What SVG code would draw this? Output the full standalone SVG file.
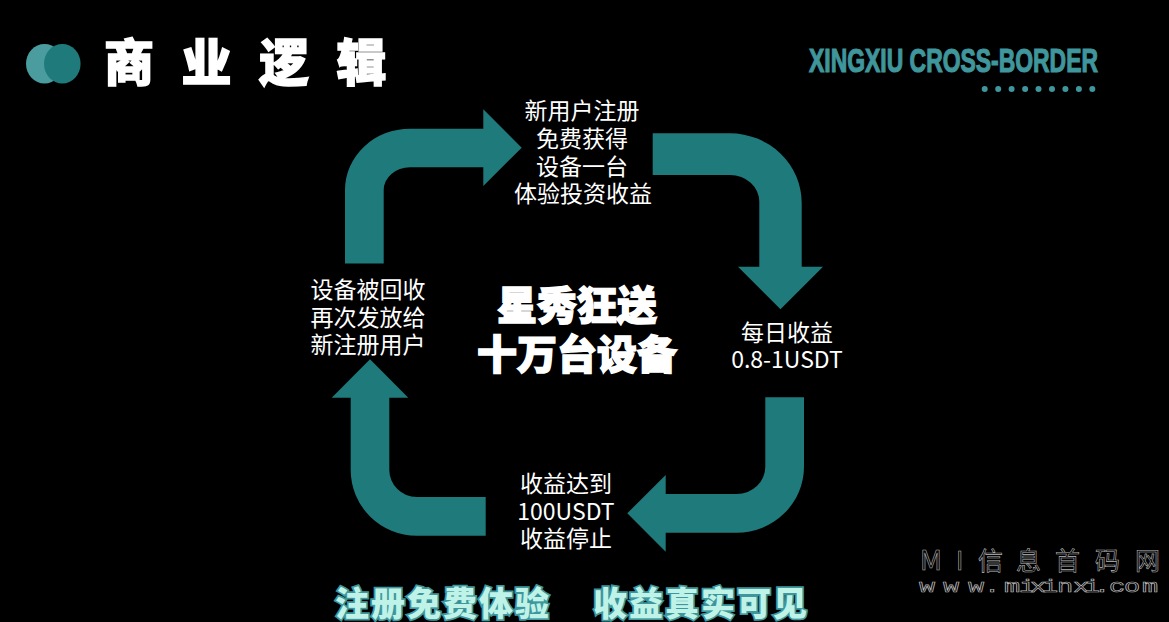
<svg xmlns="http://www.w3.org/2000/svg" width="1169" height="622" viewBox="0 0 1169 622">
<style>
.a{fill:#1f7a7c}
.b{font-family:"Noto Sans CJK SC","Noto Sans",sans-serif;font-size:23px;fill:#fff;text-anchor:middle}
.h{font-family:"Noto Sans CJK SC",sans-serif;font-weight:900;fill:#fff;stroke:#fff}
.g{font-family:"Noto Sans CJK SC",sans-serif;font-weight:900;font-size:34px;fill:#bff3e8;stroke:#3f969c;stroke-width:3.5px;paint-order:stroke;letter-spacing:2px}
.w{fill:#000;stroke:#bbb;stroke-width:.6px}
</style>
<rect width="1169" height="622" fill="#000"/>
<g id="logo">
<ellipse cx="44.5" cy="63.7" rx="18.5" ry="19.7" fill="#4a9c9e"/>
<ellipse cx="62.3" cy="63.7" rx="18.3" ry="19.7" fill="#1f7a7c"/>
</g>
<g id="title"><text class="h" x="104" y="81" font-size="50" stroke-width="1.5" letter-spacing="27.5">商业逻辑</text></g>
<g id="brand">
<text x="809" y="72" font-family="'Liberation Sans',sans-serif" font-weight="700" font-size="34" fill="#3f969c" stroke="#3f969c" stroke-width="1.2" textLength="289" lengthAdjust="spacingAndGlyphs">XINGXIU CROSS-BORDER</text>
<g fill="#3f969c"><circle cx="984.7" cy="89" r="3"/><circle cx="998.2" cy="89" r="3"/><circle cx="1011.6" cy="89" r="3"/><circle cx="1025.1" cy="89" r="3"/><circle cx="1038.5" cy="89" r="3"/><circle cx="1052" cy="89" r="3"/><circle cx="1065.4" cy="89" r="3"/><circle cx="1078.9" cy="89" r="3"/><circle cx="1092.3" cy="89" r="3"/></g>
</g>
<g id="connectors">
<path class="a" d="M345 263.500V190A65 61.300 0 0 1 410 128.700H483.300V109.300L521.700 147.700L483.300 186V167.300H410A26.300 22.700 0 0 0 383.700 190V263.500Z"/>
<path class="a" d="M652.700 133.300H730A71.700 69.700 0 0 1 801.700 203V266.700H823L780.500 309.300L738 266.700H759.300V201.700A29.300 26.700 0 0 0 730 175H652.700Z"/>
<path class="a" d="M804 397.300V466.700A67.300 66 0 0 1 736.700 532.700H665.700V551.700L627.300 513.300L665.700 475V494H736.700A28.600 27.300 0 0 0 765.300 466.700V397.300Z"/>
<path class="a" d="M485.700 535.700H416.700A66 65.700 0 0 1 350.700 470V397.700H331.700L370 359.300L408.300 397.700H389.300V470A27.400 27 0 0 0 416.700 497H485.700Z"/>
</g>
<g id="node-register"><text class="b" x="582" y="119">新用户注册</text><text class="b" x="582" y="147">免费获得</text><text class="b" x="582" y="175">设备一台</text><text class="b" x="583" y="202">体验投资收益</text></g>
<g id="node-daily"><text class="b" x="787" y="341">每日收益</text><text class="b" x="787" y="368">0.8-1USDT</text></g>
<g id="node-stop"><text class="b" x="566" y="492">收益达到</text><text class="b" x="566" y="520">100USDT</text><text class="b" x="566" y="547">收益停止</text></g>
<g id="node-recycle"><text class="b" x="368" y="298">设备被回收</text><text class="b" x="368" y="326">再次发放给</text><text class="b" x="368" y="353">新注册用户</text></g>
<g id="center"><text class="h" x="497" y="320" font-size="40" stroke-width="1.5">星秀狂送</text><text class="h" x="477" y="369" font-size="40" stroke-width="1.5">十万台设备</text></g>
<g id="slogan"><text class="g" x="335" y="616">注册免费体验</text><text class="g" x="593" y="616">收益真实可见</text></g>
<g id="watermark" opacity=".99">
<text class="w" font-family="'Noto Sans CJK SC',sans-serif" font-size="25" y="570" x="920 956 978 1016 1055 1095 1135"><tspan font-size="27">M</tspan>I信息首码网</text>
<text class="w" font-family="'Liberation Mono',monospace" font-size="18" y="592" transform="scale(1.5 1)" x="612.700 628.700 645.300 656 669.300 679.300 686.700 694.700 704.700 715.300 722.700 729.300 739.300 749.300 761.300">www.mixinxi.com</text>
</g>
</svg>
